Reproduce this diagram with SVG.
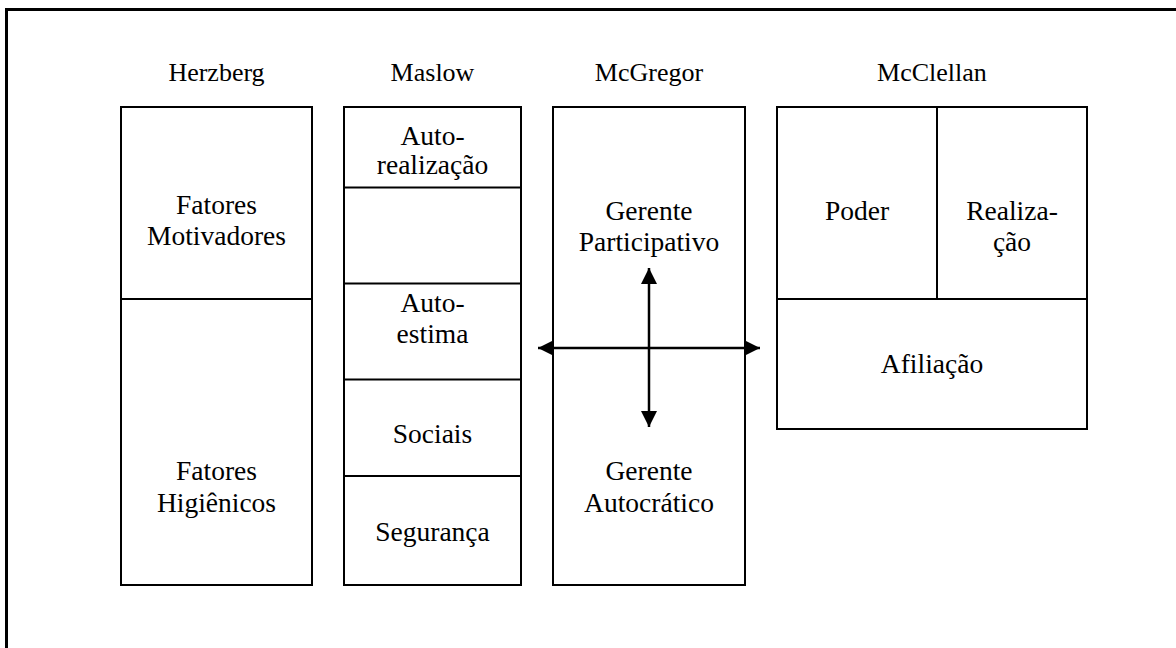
<svg xmlns="http://www.w3.org/2000/svg" width="1176" height="648" viewBox="0 0 1176 648">
<defs>
<style>
.box{fill:none;stroke:#000;stroke-width:2}
.div{stroke:#000;stroke-width:2}
text{fill:#000;text-anchor:middle;font-family:Liberation Serif, serif}
.title{font-size:26px}
.lbl{font-size:27.5px}
.arr{stroke:#000;stroke-width:2.5;fill:none}
</style>
<marker id="ah" viewBox="0 0 10 10" refX="10" refY="5" markerWidth="16" markerHeight="16" markerUnits="userSpaceOnUse" orient="auto-start-reverse">
<path d="M0,0 L10,5 L0,10 Z" fill="#000"/>
</marker>
</defs>
<rect x="0" y="0" width="1176" height="648" fill="#fff"/>
<rect id="frame" x="6.5" y="9.5" width="1200" height="700" fill="none" stroke="#000" stroke-width="3"/>
<g font-family="Liberation Serif">
<g id="herzberg">
<text class="title" x="216.5" y="81">Herzberg</text>
<rect class="box" x="121" y="107" width="191" height="478"/>
<line class="div" x1="121" y1="299" x2="312" y2="299"/>
<text class="lbl" x="216.5" y="214">Fatores</text>
<text class="lbl" x="216.5" y="245">Motivadores</text>
<text class="lbl" x="216.5" y="480">Fatores</text>
<text class="lbl" x="216.5" y="512">Higiênicos</text>
</g>

<g id="maslow">
<text class="title" x="432.5" y="81">Maslow</text>
<rect class="box" x="344" y="107" width="177" height="478"/>
<line class="div" x1="344" y1="187.5" x2="521" y2="187.5"/>
<line class="div" x1="344" y1="283.5" x2="521" y2="283.5"/>
<line class="div" x1="344" y1="379.5" x2="521" y2="379.5"/>
<line class="div" x1="344" y1="476" x2="521" y2="476"/>
<text class="lbl" x="432.5" y="145">Auto-</text>
<text class="lbl" x="432.5" y="174">realização</text>
<text class="lbl" x="432.5" y="312">Auto-</text>
<text class="lbl" x="432.5" y="343">estima</text>
<text class="lbl" x="432.5" y="443">Sociais</text>
<text class="lbl" x="432.5" y="541">Segurança</text>
</g>

<g id="mcgregor">
<text class="title" x="649" y="81">McGregor</text>
<rect class="box" x="553" y="107" width="192" height="478"/>
<text class="lbl" x="649" y="220">Gerente</text>
<text class="lbl" x="649" y="251">Participativo</text>
<text class="lbl" x="649" y="480">Gerente</text>
<text class="lbl" x="649" y="512">Autocrático</text>
</g>

<g id="mcclellan">
<text class="title" x="932" y="81">McClellan</text>
<rect class="box" x="777" y="107" width="310" height="322"/>
<line class="div" x1="937" y1="107" x2="937" y2="299"/>
<line class="div" x1="777" y1="299" x2="1087" y2="299"/>
<text class="lbl" x="857" y="220">Poder</text>
<text class="lbl" x="1012" y="220">Realiza-</text>
<text class="lbl" x="1012" y="251">ção</text>
<text class="lbl" x="932" y="373">Afiliação</text>
</g>
</g>
<g id="connectors">
<line class="arr" x1="538" y1="348" x2="760" y2="348" marker-start="url(#ah)" marker-end="url(#ah)"/>
<line class="arr" x1="649" y1="268" x2="649" y2="427" marker-start="url(#ah)" marker-end="url(#ah)"/>
</g>
</svg>
